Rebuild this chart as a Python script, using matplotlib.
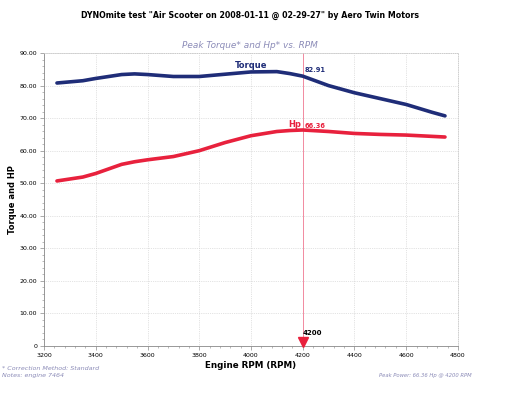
import matplotlib
matplotlib.use("Agg")
import matplotlib.pyplot as plt
from matplotlib.ticker import MultipleLocator, FuncFormatter

# Data
rpm = [3250, 3350, 3400, 3500, 3550, 3600, 3700, 3800, 3900, 4000,
       4100, 4150, 4200, 4300, 4400, 4500, 4600, 4700, 4750]
torque = [80.8, 81.5, 82.2, 83.4, 83.6, 83.4, 82.8, 82.8, 83.5, 84.2,
          84.3, 83.7, 82.91, 80.0, 77.8, 76.0, 74.2, 71.8, 70.7]
hp = [50.7, 51.9, 53.0, 55.8, 56.6, 57.2, 58.2, 60.0, 62.5, 64.6,
      65.9, 66.2, 66.36, 65.9, 65.3, 65.0, 64.8, 64.4, 64.2]
peak_rpm = 4200
peak_torque = 82.91
peak_hp = 66.36

navy = "#1f2d78"
red = "#e8213d"
lav = "#8c8cb8"

fig = plt.figure(figsize=(5.18, 3.99), dpi=100)
ax = fig.add_axes([0.085, 0.133, 0.799, 0.734])

ax.plot(rpm, torque, color=navy, lw=2.6, solid_capstyle="round", zorder=3)
ax.plot(rpm, hp, color=red, lw=2.6, solid_capstyle="round", zorder=3)
ax.axvline(peak_rpm, color="#f28aa0", lw=0.7, zorder=2)

ax.set_xlim(3200, 4800)
ax.set_ylim(0, 90)
ax.xaxis.set_major_locator(MultipleLocator(200))
ax.xaxis.set_minor_locator(MultipleLocator(40))
ax.yaxis.set_major_locator(MultipleLocator(10))
ax.yaxis.set_minor_locator(MultipleLocator(2))
ax.yaxis.set_major_formatter(FuncFormatter(lambda v, p: "0" if v == 0 else f"{v:.2f}"))
ax.tick_params(labelsize=4.5, length=3, width=0.5, color="#888888", pad=2)
ax.tick_params(which="minor", length=1.5, width=0.4, color="#888888")
ax.grid(True, which="major", color="#c8c8c8", lw=0.5, ls=":", zorder=1)
ax.set_axisbelow(True)

for side in ["top", "right"]:
    ax.spines[side].set_color("#c8c8c8")
    ax.spines[side].set_linestyle(":")
    ax.spines[side].set_linewidth(0.6)
for side in ["left", "bottom"]:
    ax.spines[side].set_color("#888888")
    ax.spines[side].set_linewidth(0.6)

# curve labels
ax.text(4000, 84.8, "Torque", color=navy, fontsize=6, fontweight="bold", ha="center", va="bottom")
ax.text(peak_rpm + 8, peak_torque + 1.0, f"{peak_torque:.2f}", color=navy, fontsize=4.8,
        fontweight="bold", ha="left", va="bottom")
ax.text(peak_rpm - 5, peak_hp + 0.3, "Hp", color=red, fontsize=6, fontweight="bold",
        ha="right", va="bottom")
ax.text(peak_rpm + 8, peak_hp + 0.3, f"{peak_hp:.2f}", color=red, fontsize=4.8,
        fontweight="bold", ha="left", va="bottom")

# peak marker
ax.plot([peak_rpm], [1.2], marker="v", color=red, ms=7, clip_on=False, zorder=5)
ax.text(peak_rpm, 3.2, str(peak_rpm), fontsize=5, fontweight="bold", ha="left", va="bottom")

ax.set_xlabel("Engine RPM (RPM)", fontsize=6.3, fontweight="bold", labelpad=2)
ax.set_ylabel("Torque and HP", fontsize=6, fontweight="bold")
ax.yaxis.set_label_coords(-0.065, 0.5)

fig.text(0.483, 0.962, 'DYNOmite test "Air Scooter on 2008-01-11 @ 02-29-27" by Aero Twin Motors',
         fontsize=5.7, fontweight="bold", ha="center", va="center")
fig.text(0.483, 0.885, "Peak Torque* and Hp* vs. RPM", fontsize=6.4, style="italic",
         color=lav, ha="center", va="center")
fig.text(0.004, 0.077, "* Correction Method: Standard", fontsize=4.6, style="italic",
         color=lav, ha="left", va="center")
fig.text(0.004, 0.058, "Notes: engine 7464", fontsize=4.6, style="italic",
         color=lav, ha="left", va="center")
fig.text(0.911, 0.058, "Peak Power: 66.36 Hp @ 4200 RPM", fontsize=3.8, style="italic",
         color=lav, ha="right", va="center")

fig.savefig("out.png", dpi=100)
